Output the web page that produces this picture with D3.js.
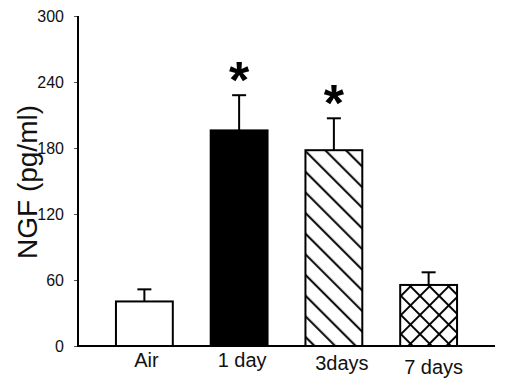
<!DOCTYPE html>
<html>
<head>
<meta charset="utf-8">
<script src="https://cdn.jsdelivr.net/npm/d3@7"></script>
<style>
  body { margin: 0; background: #fff; }
  text { font-family: "Liberation Sans", Arial, sans-serif; }
</style>
</head>
<body>
<div id="chart"></div>
<script>
// data
var groups = ["Air", "1 day", "3days", "7 days"];
var means = [40.5, 196, 178, 55.5];
var sems = [11, 32, 29, 11.5];
var signif = [false, true, true, false];
var yTicks = [0, 60, 120, 180, 240, 300];

var svgWidth = 511;
var svgHeight = 382;

var svg = d3.select("#chart")
    .append("svg")
    .attr("width", svgWidth)
    .attr("height", svgHeight);

// patterns for the hatched bars
var defs = svg.append("defs");

var diag = defs.append("pattern")
    .attr("id", "diag")
    .attr("patternUnits", "userSpaceOnUse")
    .attr("width", 14.6)
    .attr("height", 14.6)
    .attr("patternTransform", "rotate(-45)");
diag.append("rect").attr("width", 14.6).attr("height", 14.6).attr("fill", "#fff");
diag.append("line")
    .attr("x1", 7).attr("y1", 0).attr("x2", 7).attr("y2", 14.6)
    .attr("stroke", "#000").attr("stroke-width", 2);

var cross = defs.append("pattern")
    .attr("id", "cross")
    .attr("patternUnits", "userSpaceOnUse")
    .attr("width", 13.5)
    .attr("height", 13.5)
    .attr("patternTransform", "rotate(45)");
cross.append("rect").attr("width", 13.5).attr("height", 13.5).attr("fill", "#fff");
cross.append("line")
    .attr("x1", 6.75).attr("y1", 0).attr("x2", 6.75).attr("y2", 13.5)
    .attr("stroke", "#000").attr("stroke-width", 2);
cross.append("line")
    .attr("x1", 0).attr("y1", 6.75).attr("x2", 13.5).attr("y2", 6.75)
    .attr("stroke", "#000").attr("stroke-width", 2);

var fills = ["#fff", "#000", "url(#diag)", "url(#cross)"];

// scales
var x = d3.scaleBand()
    .domain(groups)
    .range([97, 476])
    .paddingInner(0.4)
    .paddingOuter(0.2);

var y = d3.scaleLinear()
    .domain([0, 300])
    .range([346, 16]);

var axisX = 78;

// y axis
var leftAxis = d3.axisLeft(y)
    .tickValues(yTicks)
    .tickSize(4)
    .tickPadding(10);

var yAxisG = svg.append("g")
    .attr("transform", `translate(${axisX}, 0)`)
    .call(leftAxis);

yAxisG.select(".domain").remove();
yAxisG.selectAll(".tick line")
    .attr("stroke", "#555")
    .attr("stroke-width", 1);
yAxisG.selectAll(".tick text")
    .attr("font-size", "16px")
    .attr("fill", "#111")
    .style("font-family", "'Liberation Sans', Arial, sans-serif");

svg.append("line")
    .attr("x1", axisX).attr("x2", axisX)
    .attr("y1", y(300)).attr("y2", y(0) + 1)
    .attr("stroke", "#000").attr("stroke-width", 2);

// bars
var bars = svg.selectAll(".bar")
    .data(groups)
    .enter()
    .append("rect")
    .attr("class", "bar")
    .attr("x", d => x(d))
    .attr("width", x.bandwidth())
    .attr("y", (d, i) => y(means[i]))
    .attr("height", (d, i) => y(0) - y(means[i]))
    .attr("fill", (d, i) => fills[i])
    .attr("stroke", "#000")
    .attr("stroke-width", 2);

// error bars (upper only)
svg.selectAll(".err")
    .data(groups)
    .enter()
    .append("line")
    .attr("x1", d => x(d) + x.bandwidth() / 2)
    .attr("x2", d => x(d) + x.bandwidth() / 2)
    .attr("y1", (d, i) => y(means[i]))
    .attr("y2", (d, i) => y(means[i] + sems[i]))
    .attr("stroke", "#000")
    .attr("stroke-width", 2);

svg.selectAll(".cap")
    .data(groups)
    .enter()
    .append("line")
    .attr("x1", d => x(d) + x.bandwidth() / 2 - 7)
    .attr("x2", d => x(d) + x.bandwidth() / 2 + 7)
    .attr("y1", (d, i) => y(means[i] + sems[i]))
    .attr("y2", (d, i) => y(means[i] + sems[i]))
    .attr("stroke", "#000")
    .attr("stroke-width", 2);

// significance stars
svg.selectAll(".star")
    .data(groups.filter((d, i) => signif[i]))
    .enter()
    .append("text")
    .attr("x", d => x(d) + x.bandwidth() / 2)
    .attr("y", d => {
        var i = groups.indexOf(d);
        return y(means[i] + sems[i]) + 3;
    })
    .attr("text-anchor", "middle")
    .attr("font-size", "52px")
    .attr("font-weight", "bold")
    .text("*");

// x axis line
svg.append("line")
    .attr("x1", axisX - 1).attr("x2", 495)
    .attr("y1", y(0)).attr("y2", y(0))
    .attr("stroke", "#000").attr("stroke-width", 2);

// category labels
var labelNudge = [2, 3, 8, 5];
var labelDrop = [0, 0, 3, 7];
svg.selectAll(".xlab")
    .data(groups)
    .enter()
    .append("text")
    .attr("x", (d, i) => x(d) + x.bandwidth() / 2 + labelNudge[i])
    .attr("y", (d, i) => 367 + labelDrop[i])
    .attr("text-anchor", "middle")
    .attr("font-size", "20px")
    .attr("fill", "#111")
    .text(d => d);

// y axis title
svg.append("text")
    .attr("transform", `translate(37, 182) rotate(-90)`)
    .attr("text-anchor", "middle")
    .attr("font-size", "28px")
    .attr("fill", "#111")
    .text("NGF (pg/ml)");
</script>
</body>
</html>
